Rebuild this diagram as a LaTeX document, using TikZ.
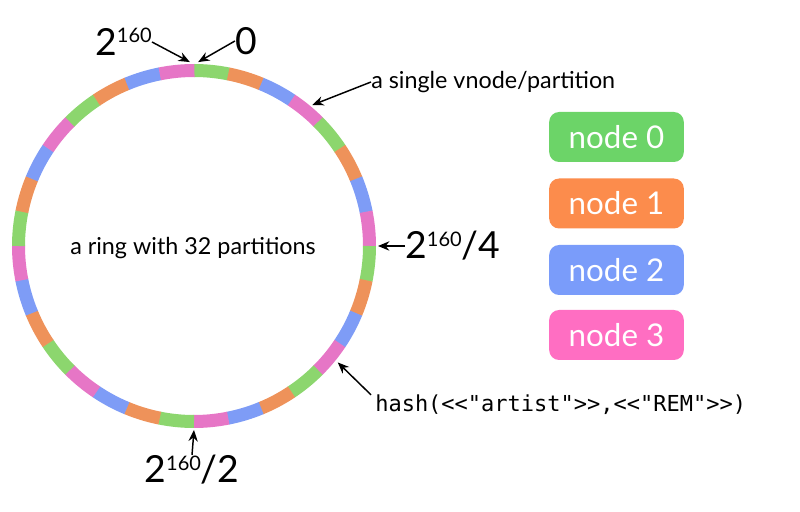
\documentclass[tikz,border=0pt]{standalone}
\usepackage{fontspec}
\setmainfont{Lato}
\setmonofont{DejaVu Sans Mono}
\usetikzlibrary{arrows.meta}

\definecolor{ring0}{RGB}{140,214,110}
\definecolor{ring1}{RGB}{238,146,90}
\definecolor{ring2}{RGB}{126,156,246}
\definecolor{ring3}{RGB}{230,118,198}
\definecolor{box0}{RGB}{108,212,104}
\definecolor{box1}{RGB}{252,140,76}
\definecolor{box2}{RGB}{122,156,250}
\definecolor{box3}{RGB}{255,110,194}

\newcommand{\twopow}{2\raisebox{0.34em}{\fontsize{15}{15}\selectfont 160}}

\begin{document}
\begin{tikzpicture}[x=0.75pt,y=0.75pt]
  \tikzstyle {every node}=[inner sep=0pt];
  \tikzstyle {bignum}=[font=\fontsize{28}{28}\selectfont];
  \tikzstyle {ringtext}=[font=\fontsize{17.5}{17.5}\selectfont];
  \tikzstyle {pointer}=[-{Stealth[length=8.5pt,width=7pt]}, line width=1.1pt];
  \tikzstyle {nodebox}=[rounded corners=7.5pt, minimum width=101pt,
    minimum height=37.5pt, text=white, font=\fontsize{23.5}{23.5}\selectfont];

  \useasboundingbox (0,0) rectangle (800,511);

  % the ring, 32 partitions
  \begin{scope}[shift={(194,265)}]
    \foreach \i in {0,...,31} {
      \pgfmathtruncatemacro\k{mod(\i,4)}
      \pgfmathsetmacro\a{90-\i*11.25}
      \draw [ring\k, line width=9.75pt] (\a:175.5)
        arc [start angle=\a, delta angle=-11.4, radius=175.5];
    }
    \coordinate (top1) at (91.3:184);
    \coordinate (top2) at (88.7:184);
    \coordinate (vn) at (50:184);
    \coordinate (quarter) at (0:184);
    \coordinate (hs) at (-39:185);
    \coordinate (half) at (-90:184);
  \end{scope}

  \path (193,263) node [ringtext] (ringlbl) {a ring with 32 partitions};

  \path (152,469) node [bignum, anchor=east] (maxlbl) {\twopow};
  \path (246,470) node [bignum] (zerolbl) {0};
  \path (371,429) node [ringtext, anchor=west] (vnodelbl) {a single vnode/partition};
  \path (405,265) node [bignum, anchor=west] (quarterlbl) {\twopow/4};
  \path (375,106) node [anchor=west, font=\ttfamily\fontsize{16.5}{16.5}\selectfont]
    (hashlbl) {hash(<<"artist">>,<<"REM">>)};
  \path (192,56) node [bignum, anchor=north] (halflbl) {\twopow/2};

  \draw [pointer] (maxlbl.east) -- (top1);
  \draw [pointer] (zerolbl.west) -- (top2);
  \draw [pointer] (vnodelbl.west) -- (vn);
  \draw [pointer] (quarterlbl.west) -- (quarter);
  \draw [pointer] ([xshift=-3pt]hashlbl.north west) -- (hs);
  \draw [pointer] (halflbl.north) -- (half);

  \path (616.5,374) node [nodebox, fill=box0] (node0) {node 0};
  \path (616.5,307.5) node [nodebox, fill=box1] (node1) {node 1};
  \path (616.5,241) node [nodebox, fill=box2] (node2) {node 2};
  \path (616.5,176) node [nodebox, fill=box3] (node3) {node 3};
\end{tikzpicture}
\end{document}
